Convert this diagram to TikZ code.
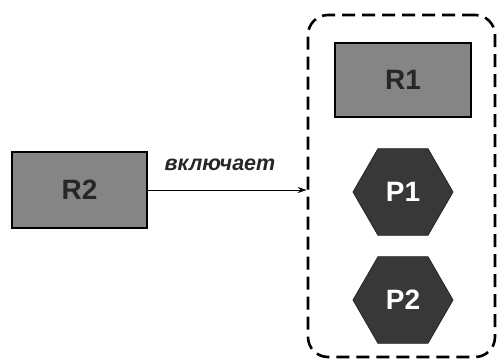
\documentclass[tikz,border=0pt]{standalone}
\usepackage{fontspec}
\setmainfont{Liberation Sans}
\usetikzlibrary{shapes.geometric,arrows.meta}
\begin{document}
\begin{tikzpicture}[x=1pt,y=-1pt,
  rbox/.style={draw=black,line width=1.2pt,fill=black!48,minimum width=135pt,minimum height=76pt,inner sep=0pt,font=\fontsize{28}{28}\selectfont\bfseries,text=black!85},
  hexa/.style={regular polygon,regular polygon sides=6,minimum size=100pt,inner sep=0pt,fill=black!78,draw=black!85,line width=0.8pt,text=white,font=\fontsize{28}{28}\selectfont\bfseries},
  group/.style={draw=black,line width=2.6pt,dash pattern=on 13pt off 7pt,rounded corners=20pt}]
\useasboundingbox (0,0) rectangle (499,362);
\node[group,minimum width=187pt,minimum height=342pt] (grp) at (401.5,186) {};
\node[rbox] (r2) at (79.5,190) {R2};
\node[rbox,minimum width=136pt,minimum height=74pt] (r1) at (403,80) {R1};
\node[hexa] (p1) at (403,192) {P1};
\node[hexa] (p2) at (403,300) {P2};
\draw[line width=1pt,-{Stealth[length=9pt,width=6pt]}] (r2.east) -- (r2.east -| grp.west);
\node[font=\fontsize{21.5}{21.5}\selectfont\bfseries\itshape,text=black!85] (lbl) at (220,165) {включает};
\end{tikzpicture}
\end{document}
